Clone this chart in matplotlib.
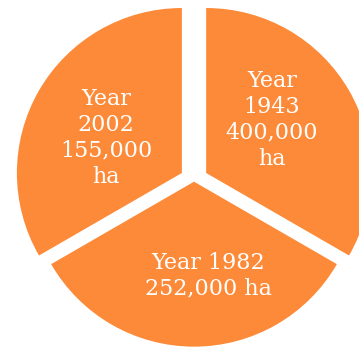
import matplotlib
matplotlib.use("Agg")
import matplotlib.pyplot as plt
import numpy as np

# ---- data ----
years = ["1943", "1982", "2002"]
areas_ha = [400000, 252000, 155000]
slice_sizes = [1, 1, 1]          # the chart shows three equal slices
label_templates = ["Year\n{y}\n{a}\nha", "Year {y}\n{a} ha", "Year\n{y}\n{a}\nha"]

# ---- layout / style ----
explode = [0.085, 0.01, 0.085]
label_angles_deg = [37.6, 278.3, 154.4]
label_radius = [0.597, 0.588, 0.59]
slice_color = "#FD8A38"

fig = plt.figure(figsize=(3.59, 3.47), dpi=100)
ax = fig.add_axes([0, 0, 1, 1])
ax.pie(slice_sizes, startangle=90, counterclock=False, explode=explode,
       colors=[slice_color] * len(slice_sizes),
       wedgeprops=dict(linewidth=0), radius=1.0)
ax.set_xlim(-1.176, 1.0)
ax.set_ylim(-1.012, 1.091)
ax.set_aspect("equal", adjustable="box")
ax.axis("off")

for y, a, tpl, ang, r in zip(years, areas_ha, label_templates, label_angles_deg, label_radius):
    t = np.deg2rad(ang)
    ax.text(r * np.cos(t), r * np.sin(t), tpl.format(y=y, a=f"{a:,}"),
            ha="center", va="center", color="white", fontsize=16,
            family="DejaVu Serif", linespacing=1.22)

fig.savefig("out.png", dpi=100)
